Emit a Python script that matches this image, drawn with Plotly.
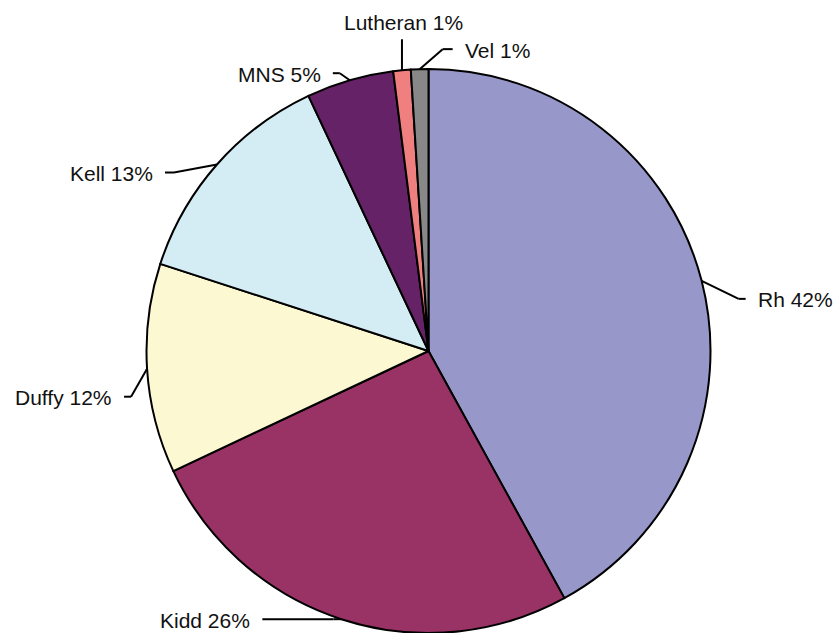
import math
import plotly.graph_objects as go

# Blood group systems and their share of cases (%)
groups = ["Rh", "Kidd", "Duffy", "Kell", "MNS", "Lutheran", "Vel"]
shares = [42, 26, 12, 13, 5, 1, 1]
colors = ["#9797c9", "#993366", "#fbf8d2", "#d4ecf3", "#662266", "#f08080", "#888888"]

W, H = 837, 633

# Pie placement (pixels): radius and centre derived from the domain
R = 282
CX = 428.5
x_dom = [(CX - R) / W, (CX + R) / W]
y_dom = [0.0, 2 * R / H]
CY = H - R  # centre measured from the top

# Leader-line geometry per label: elbow offset from the rim point (dx, dy),
# length of the horizontal run, and how the text is anchored.
leader = {
    "Rh":       dict(dx=37,  dy=18, run=7,   anchor="left"),
    "Kidd":     dict(dx=-8,  dy=0,  run=-71, anchor="right"),
    "Duffy":    dict(dx=-16, dy=28, run=-7,  anchor="right"),
    "Kell":     dict(dx=-43, dy=8,  run=-9,  anchor="right"),
    "MNS":      dict(dx=-10, dy=-7, run=-7,  anchor="right"),
    "Lutheran": dict(dx=0,   dy=-31, run=0,  anchor="center"),
    "Vel":      dict(dx=23,  dy=-20, run=10, anchor="left"),
}


def px_to_paper(x, y):
    return x / W, 1 - y / H


fig = go.Figure(
    go.Pie(
        labels=groups,
        values=shares,
        sort=False,
        direction="clockwise",
        rotation=0,
        marker=dict(colors=colors, line=dict(color="black", width=2)),
        textinfo="none",
        hoverinfo="label+percent",
        domain=dict(x=x_dom, y=y_dom),
        showlegend=False,
    )
)

shapes = []
annotations = []
total = sum(shares)
cum = 0.0
for name, val in zip(groups, shares):
    mid = (cum + val / 2) / total * 2 * math.pi
    cum += val
    sx = CX + R * math.sin(mid)
    sy = CY - R * math.cos(mid)
    g = leader[name]
    ex, ey = sx + g["dx"], sy + g["dy"]
    fx, fy = ex + g["run"], ey
    for (x0, y0, x1, y1) in [(sx, sy, ex, ey), (ex, ey, fx, fy)]:
        if abs(x1 - x0) < 0.01 and abs(y1 - y0) < 0.01:
            continue
        p0 = px_to_paper(x0, y0)
        p1 = px_to_paper(x1, y1)
        shapes.append(dict(type="line", xref="paper", yref="paper",
                           x0=p0[0], y0=p0[1], x1=p1[0], y1=p1[1],
                           line=dict(color="black", width=2), layer="below"))
    pct = round(val / total * 100)
    text = f"{name} {pct}%"
    if g["anchor"] == "left":
        tx, ty, xa, ya = fx + 10, fy + 1, "left", "middle"
    elif g["anchor"] == "right":
        tx, ty, xa, ya = fx - 10, fy + 1, "right", "middle"
    else:
        tx, ty, xa, ya = fx + 2, fy - 3, "center", "bottom"
    ax, ay = px_to_paper(tx, ty)
    annotations.append(dict(x=ax, y=ay, xref="paper", yref="paper", text=text,
                            showarrow=False, xanchor=xa, yanchor=ya,
                            font=dict(family="Liberation Sans, Arial, sans-serif",
                                      size=21, color="#111111")))

fig.update_layout(
    width=W,
    height=H,
    margin=dict(l=0, r=0, t=0, b=0),
    paper_bgcolor="white",
    plot_bgcolor="white",
    shapes=shapes,
    annotations=annotations,
)

fig.write_html("out.html")
